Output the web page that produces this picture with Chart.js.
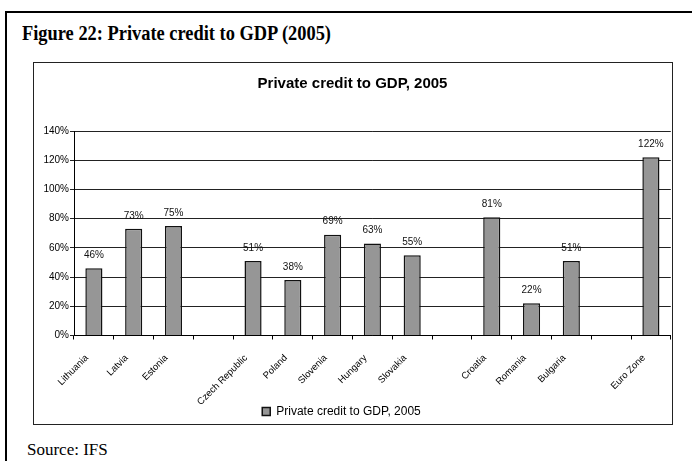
<!DOCTYPE html>
<html>
<head>
<meta charset="utf-8">
<script src="https://cdn.jsdelivr.net/npm/chart.js@4/dist/chart.umd.min.js"></script>
<style>
  html, body { margin: 0; padding: 0; background: #fff; }
  body { width: 692px; height: 461px; position: relative; overflow: hidden; }
  #frame { position: absolute; left: 5px; top: 11px; width: 720px; height: 480px;
           border-left: 2px solid #000; border-top: 2px solid #000; }
  #figTitle { position: absolute; left: 22px; top: 23px; margin: 0;
              font: bold 20px/21px "Liberation Serif", "Times New Roman", serif; color: #000;
              white-space: nowrap; transform-origin: 0 0; transform: scaleX(0.92); }
  #box { position: absolute; left: 33px; top: 62px; width: 638px; height: 361px;
         border: 1px solid #222; background: #fff; }
  #box canvas { display: block; }
  #source { position: absolute; left: 27px; top: 441px; margin: 0;
            font: 17px/17px "Liberation Serif", "Times New Roman", serif; color: #000; }
</style>
</head>
<body>
<div id="frame"></div>
<div id="figTitle">Figure 22: Private credit to GDP (2005)</div>
<div id="box"><canvas id="chart" width="638" height="361"></canvas></div>
<div id="source">Source: IFS</div>
<script>
// Countries grouped into Baltics, Central Europe and South-East Europe, with blank spacer slots
const categories = ['Lithuania', 'Latvia', 'Estonia', '',
                    'Czech Republic', 'Poland', 'Slovenia', 'Hungary', 'Slovakia', '',
                    'Croatia', 'Romania', 'Bulgaria', '',
                    'Euro Zone'];
// Private credit as a share of GDP in 2005, percent
const creditToGdp = [46, 73, 75, null,
                     51, 38, 69, 63, 55, null,
                     81, 22, 51, null,
                     122];
const seriesName = 'Private credit to GDP, 2005';
const yMin = 0, yMax = 140, yStep = 20;

const FONT = 'Arial, "Liberation Sans", sans-serif';

// Writes the percentage above every bar
const valueLabels = {
  id: 'valueLabels',
  afterDatasetsDraw(chart) {
    const ctx = chart.ctx;
    const meta = chart.getDatasetMeta(0);
    ctx.save();
    ctx.font = '10px ' + FONT;
    ctx.fillStyle = '#111';
    ctx.textAlign = 'center';
    ctx.textBaseline = 'middle';
    meta.data.forEach((bar, i) => {
      const v = chart.data.datasets[0].data[i];
      if (v === null || v === undefined) return;
      ctx.fillText(v + '%', bar.x, bar.y - 13);
    });
    ctx.restore();
  }
};

// Nudges the legend a little left of the canvas centre
const legendShift = {
  id: 'legendShift',
  afterLayout(chart) {
    const lg = chart.legend;
    if (lg) { lg.left -= 11; lg.right -= 11; }
  }
};

new Chart(document.getElementById('chart'), {
  type: 'bar',
  data: {
    labels: categories,
    datasets: [{
      label: seriesName,
      data: creditToGdp,
      backgroundColor: '#969696',
      borderColor: '#111',
      borderWidth: 1.5,
      borderSkipped: 'bottom',
      categoryPercentage: 1,
      barPercentage: 0.43
    }]
  },
  options: {
    responsive: false,
    animation: false,
    layout: { padding: { left: 0, right: 1, top: 0, bottom: -3.5 } },
    plugins: {
      title: {
        display: true,
        text: seriesName,
        color: '#000',
        font: { family: FONT, size: 15, weight: 'bold' },
        padding: { top: 11.5, bottom: 38.5 }
      },
      legend: {
        display: true,
        position: 'bottom',
        labels: {
          color: '#000',
          boxWidth: 8,
          boxHeight: 8,
          padding: 0,
          font: { family: FONT, size: 12 }
        }
      },
      tooltip: { enabled: false }
    },
    scales: {
      x: {
        grid: { display: true, drawOnChartArea: false, drawTicks: true, tickLength: 4, color: '#000', offset: true },
        border: { color: '#000', width: 1 },
        ticks: {
          autoSkip: false, minRotation: 45, maxRotation: 45, padding: 13, labelOffset: -7,
          color: '#000',
          font: { family: FONT, size: 9.5 }
        },
        afterFit(scale) { scale.height = 70; }
      },
      y: {
        min: yMin, max: yMax,
        grid: { color: '#222', lineWidth: 1, tickLength: 4, drawTicks: true },
        border: { color: '#000', width: 1 },
        ticks: {
          stepSize: yStep, padding: 1, color: '#000',
          font: { family: FONT, size: 10 },
          callback: (v) => v + '%'
        },
        afterFit(scale) { scale.width = 40; }
      }
    }
  },
  plugins: [valueLabels, legendShift]
});
</script>
</body>
</html>
